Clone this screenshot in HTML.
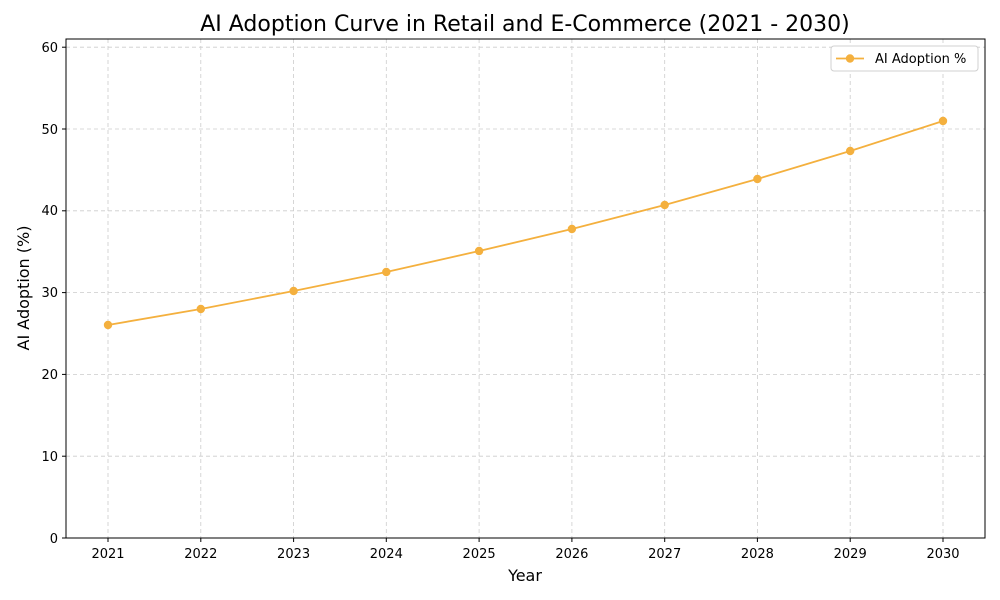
<!DOCTYPE html>
<html><head><meta charset="utf-8"><style>body{margin:0;background:#fff}svg{display:block;font-family:"DejaVu Sans","Liberation Sans",sans-serif}</style></head>
<body>
<svg width="1000" height="600" xmlns="http://www.w3.org/2000/svg">
<rect width="1000" height="600" fill="#fff"/>
<text x="525" y="31" font-size="22" text-anchor="middle" fill="#000">AI Adoption Curve in Retail and E-Commerce (2021 - 2030)</text>
<g stroke="#cccccc" stroke-width="0.8" stroke-dasharray="4,3">
<line x1="66" x2="985" y1="456.2" y2="456.2"/><line x1="66" x2="985" y1="374.4" y2="374.4"/><line x1="66" x2="985" y1="292.6" y2="292.6"/><line x1="66" x2="985" y1="210.8" y2="210.8"/><line x1="66" x2="985" y1="129" y2="129"/><line x1="66" x2="985" y1="47.2" y2="47.2"/>
<line y1="39" y2="538" x1="108" x2="108"/><line y1="39" y2="538" x1="200.8" x2="200.8"/><line y1="39" y2="538" x1="293.6" x2="293.6"/><line y1="39" y2="538" x1="386.3" x2="386.3"/><line y1="39" y2="538" x1="479.1" x2="479.1"/><line y1="39" y2="538" x1="571.9" x2="571.9"/><line y1="39" y2="538" x1="664.7" x2="664.7"/><line y1="39" y2="538" x1="757.4" x2="757.4"/><line y1="39" y2="538" x1="850.2" x2="850.2"/><line y1="39" y2="538" x1="943" x2="943"/>
</g>
<rect x="66" y="39" width="919" height="499" fill="none" stroke="#000" stroke-width="1"/>
<g stroke="#000" stroke-width="1">
<line x1="62" x2="66" y1="538" y2="538"/><line x1="62" x2="66" y1="456.2" y2="456.2"/><line x1="62" x2="66" y1="374.4" y2="374.4"/><line x1="62" x2="66" y1="292.6" y2="292.6"/><line x1="62" x2="66" y1="210.8" y2="210.8"/><line x1="62" x2="66" y1="129" y2="129"/><line x1="62" x2="66" y1="47.2" y2="47.2"/>
<line y1="538" y2="542" x1="108" x2="108"/><line y1="538" y2="542" x1="200.8" x2="200.8"/><line y1="538" y2="542" x1="293.6" x2="293.6"/><line y1="538" y2="542" x1="386.3" x2="386.3"/><line y1="538" y2="542" x1="479.1" x2="479.1"/><line y1="538" y2="542" x1="571.9" x2="571.9"/><line y1="538" y2="542" x1="664.7" x2="664.7"/><line y1="538" y2="542" x1="757.4" x2="757.4"/><line y1="538" y2="542" x1="850.2" x2="850.2"/><line y1="538" y2="542" x1="943" x2="943"/>
</g>
<g font-size="13" fill="#000" text-anchor="end">
<text x="58" y="543">0</text><text x="58" y="461">10</text><text x="58" y="379">20</text><text x="58" y="297">30</text><text x="58" y="215">40</text><text x="58" y="134">50</text><text x="58" y="52">60</text>
</g>
<g font-size="13" fill="#000" text-anchor="middle">
<text x="108" y="558">2021</text><text x="200.8" y="558">2022</text><text x="293.6" y="558">2023</text><text x="386.3" y="558">2024</text><text x="479.1" y="558">2025</text><text x="571.9" y="558">2026</text><text x="664.7" y="558">2027</text><text x="757.4" y="558">2028</text><text x="850.2" y="558">2029</text><text x="943" y="558">2030</text>
</g>
<text x="525" y="581" font-size="16" text-anchor="middle">Year</text>
<text transform="translate(29,288) rotate(-90)" font-size="16" text-anchor="middle">AI Adoption (%)</text>
<polyline fill="none" stroke="#f4b03e" stroke-width="1.8" points="108,325 200.8,309 293.6,291 386.3,272 479.1,251 571.9,229 664.7,205 757.4,179 850.2,151 943,121"/>
<g fill="#f4b03e">
<circle cx="108" cy="325" r="4.2"/><circle cx="200.8" cy="309" r="4.2"/><circle cx="293.6" cy="291" r="4.2"/><circle cx="386.3" cy="272" r="4.2"/><circle cx="479.1" cy="251" r="4.2"/><circle cx="571.9" cy="229" r="4.2"/><circle cx="664.7" cy="205" r="4.2"/><circle cx="757.4" cy="179" r="4.2"/><circle cx="850.2" cy="151" r="4.2"/><circle cx="943" cy="121" r="4.2"/>
</g>
<rect x="831" y="46" width="147" height="25" rx="3" fill="#fff" stroke="#d0d0d0"/>
<line x1="836" x2="864" y1="58.5" y2="58.5" stroke="#f4b03e" stroke-width="1.8"/>
<circle cx="850" cy="58.5" r="4.2" fill="#f4b03e"/>
<text x="875" y="63" font-size="13">AI Adoption %</text>
</svg>
</body></html>
